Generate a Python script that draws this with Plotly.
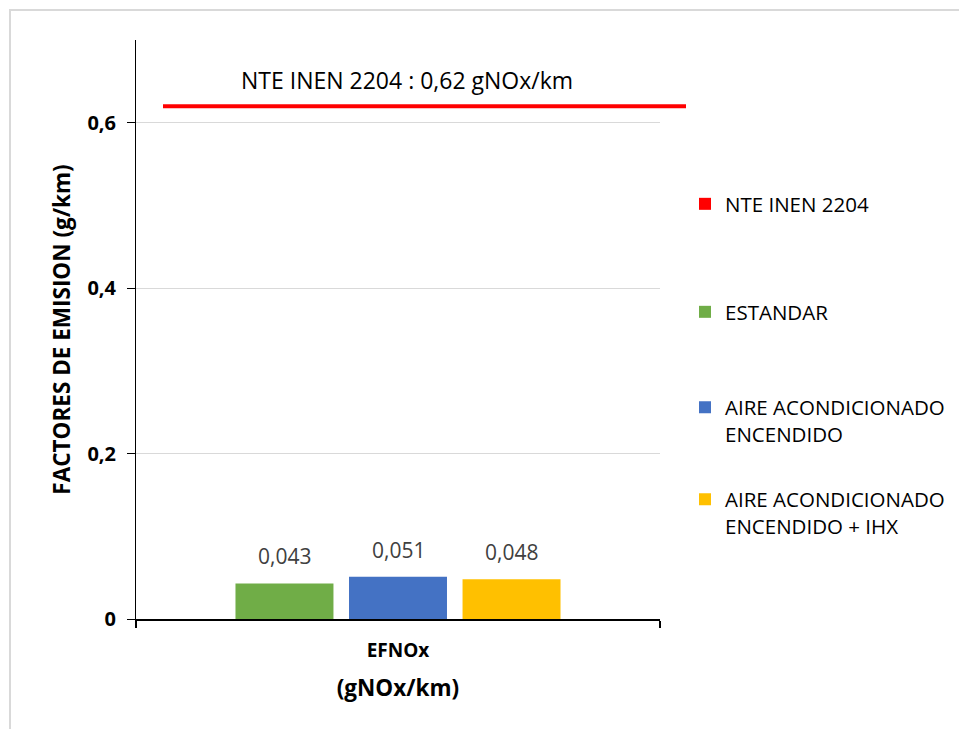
import plotly.graph_objects as go

# Datos del gráfico
categoria = ["EFNOx"]
series = ["ESTANDAR", "AIRE ACONDICIONADO<br>ENCENDIDO", "AIRE ACONDICIONADO<br>ENCENDIDO + IHX"]
valores = [0.043, 0.051, 0.048]
colores = ["#70ad47", "#4472c4", "#ffc000"]
limite_nombre = "NTE INEN 2204"
limite_valor = 0.62
limite_unidad = "gNOx/km"
y_ticks = [0, 0.2, 0.4, 0.6]
y_ticktext = ["0", "0,2", "0,4", "0,6"]

# Geometría de la figura
W, H = 959, 729
ML, MR, MT, MB = 136, 299, 40, 110
PW, PH = W - ML - MR, H - MT - MB
BARGAP = 0.35
FONT = "Open Sans"


def px_x(p):
    return (p - ML) / PW


def px_y(p):
    return (H - MB - p) / PH


def coma(v, d):
    return f"{v:.{d}f}".replace(".", ",")


fig = go.Figure()

# Entrada de leyenda para el límite normativo
fig.add_trace(go.Scatter(
    x=[None], y=[None], mode="markers", name=limite_nombre,
    marker=dict(symbol="square", size=12, color="#ff0000"),
    legend="legend", hoverinfo="skip",
))

legendas = ["legend2", "legend3", "legend4"]
for nombre, v, c, lg in zip(series, valores, colores, legendas):
    fig.add_trace(go.Bar(
        x=categoria, y=[v], name=nombre, marker=dict(color=c, line=dict(width=0)),
        legend=lg,
    ))

# Etiquetas de valor sobre las barras
n = len(valores)
slot = (1 - BARGAP) / n
for i, v in enumerate(valores):
    fig.add_annotation(
        x=(i - (n - 1) / 2) * slot, y=v, xref="x", yref="y",
        text=coma(v, 3), showarrow=False, yanchor="middle", yshift=27,
        font=dict(family=FONT, size=21, color="#404040"),
    )

# Línea del límite NTE INEN 2204
fig.add_shape(
    type="line", xref="paper", yref="y",
    x0=px_x(163), x1=px_x(686), y0=limite_valor, y1=limite_valor,
    line=dict(color="#ff0000", width=4), layer="above",
)
fig.add_annotation(
    x=px_x(407), y=limite_valor, xref="paper", yref="y",
    text=f"{limite_nombre} : {coma(limite_valor, 2)} {limite_unidad}",
    showarrow=False, yanchor="middle", yshift=26,
    font=dict(family=FONT, size=23, color="#000000"),
)

# Marco exterior del gráfico
fig.add_shape(
    type="rect", xref="paper", yref="paper",
    x0=px_x(10), x1=px_x(975), y0=px_y(745), y1=px_y(10),
    line=dict(color="#d9d9d9", width=2), layer="below",
)

leg_font = dict(family=FONT, size=20.5, color="#000000")
leg_common = dict(xanchor="left", yanchor="middle", valign="top", font=leg_font,
                  bgcolor="rgba(0,0,0,0)", itemclick=False, itemdoubleclick=False)

fig.update_layout(
    width=W, height=H,
    margin=dict(l=ML, r=MR, t=MT, b=MB, autoexpand=False),
    paper_bgcolor="white", plot_bgcolor="white",
    barmode="group", bargap=BARGAP, bargroupgap=0.137,
    font=dict(family=FONT, color="#000000"),
    showlegend=True,
    legend=dict(x=px_x(685), y=px_y(204), **leg_common),
    legend2=dict(x=px_x(685), y=px_y(312), **leg_common),
    legend3=dict(x=px_x(685), y=px_y(421), **leg_common),
    legend4=dict(x=px_x(685), y=px_y(513), **leg_common),
    xaxis=dict(
        type="category", range=[-0.5, 0.5], tickson="boundaries",
        showline=True, linecolor="#000000", linewidth=2,
        ticks="outside", ticklen=7, tickcolor="#000000", tickwidth=1.5,
        tickfont=dict(family=FONT, size=19, color="#000000", weight="bold"),
        ticklabelstandoff=13,
        title=dict(text="<b>(gNOx/km)</b>", standoff=18,
                   font=dict(family=FONT, size=22.5, color="#000000")),
        showgrid=False, zeroline=False,
    ),
    yaxis=dict(
        range=[0, 0.7], tickvals=y_ticks, ticktext=y_ticktext,
        showline=True, linecolor="#000000", linewidth=1,
        ticks="outside", ticklen=8, tickcolor="#000000",
        tickfont=dict(family=FONT, size=20, color="#000000", weight="bold"),
        ticklabelstandoff=7,
        showgrid=True, gridcolor="#d9d9d9", gridwidth=1, zeroline=False,
        title=dict(text="<b>FACTORES DE EMISION (g/km)</b>", standoff=10,
                   font=dict(family=FONT, size=22.5, color="#000000")),
    ),
)

fig.write_html("out.html")
